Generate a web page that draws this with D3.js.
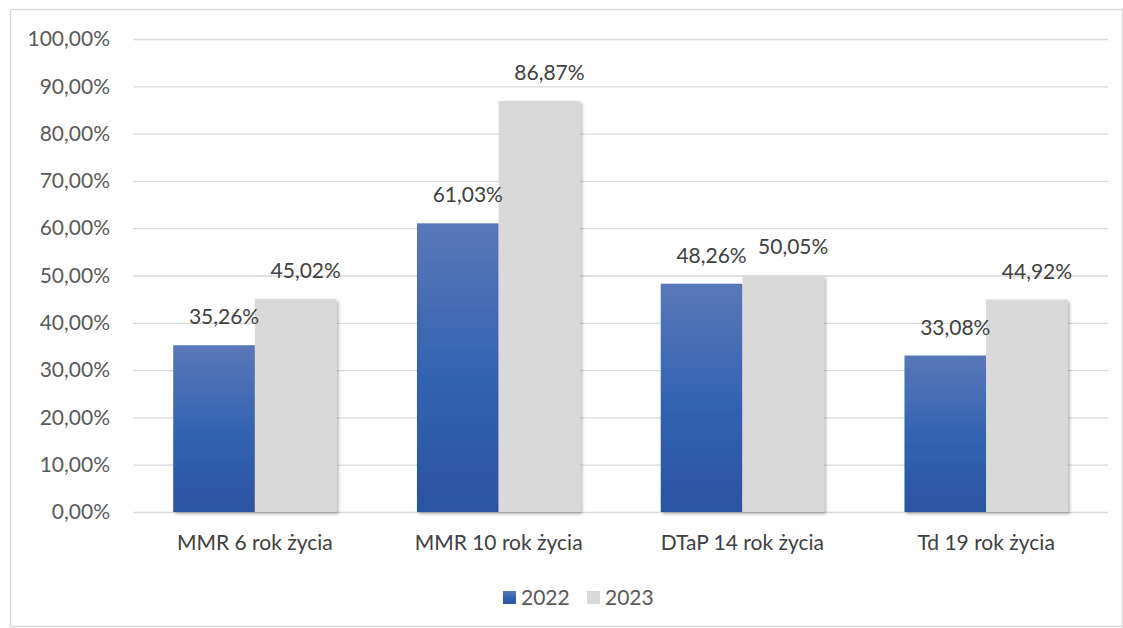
<!DOCTYPE html>
<html><head><meta charset="utf-8">
<script src="https://cdn.jsdelivr.net/npm/d3@7"></script>
<style>body{margin:0;background:#fff}svg{display:block}</style>
</head><body><svg id="c" width="1123" height="628"></svg>
<script>
const categories = ["MMR 6 rok życia","MMR 10 rok życia","DTaP 14 rok życia","Td 19 rok życia"];
const seriesNames = ["2022","2023"];
const values2022 = [35.26, 61.03, 48.26, 33.08];
const values2023 = [45.02, 86.87, 50.05, 44.92];
const yTicks = [0,10,20,30,40,50,60,70,80,90,100];

(function(){
const fmt = v => v.toFixed(2).replace(".", ",") + "%";
const font = "Lato, 'Open Sans', sans-serif";
const fs = "21px";
const svg = d3.select("#c");
const defs = svg.append("defs");
const g1 = defs.append("linearGradient").attr("id","blueGrad").attr("x1",0).attr("y1",0).attr("x2",0).attr("y2",1);
g1.append("stop").attr("offset","0%").attr("stop-color","#5A77B8");
g1.append("stop").attr("offset","55%").attr("stop-color","#3162B2");
g1.append("stop").attr("offset","100%").attr("stop-color","#2C53A1");
const f = defs.append("filter").attr("id","sh").attr("x","-10%").attr("y","-10%").attr("width","130%").attr("height","120%");
f.append("feDropShadow").attr("dx",2).attr("dy",2).attr("stdDeviation",1.8).attr("flood-color","#000").attr("flood-opacity",0.28);

svg.append("rect").attr("x",10.5).attr("y",9.5).attr("width",1112).attr("height",617)
  .attr("fill","#fff").attr("stroke","#d9d9d9").attr("stroke-width",1.5);

const pl = 133, pr = 1108, pt = 39, pb = 512;
const x = d3.scaleBand().domain(categories).range([pl,pr]).paddingInner(0.33).paddingOuter(0.165);
const xs = d3.scaleBand().domain(seriesNames).range([0,x.bandwidth()]);
const y = d3.scaleLinear().domain([0,100]).range([pb,pt]);

const yAxis = svg.append("g").attr("transform",`translate(${pl},0)`)
  .call(d3.axisLeft(y).tickValues(yTicks).tickFormat(fmt).tickSize(-(pr-pl)).tickPadding(23));
yAxis.select(".domain").remove();
yAxis.selectAll(".tick line").attr("stroke","#d9d9d9").attr("stroke-width",1.3);
yAxis.selectAll(".tick text").attr("fill","#595959").style("font-family",font).style("font-size",fs);

const data = categories.map((c,i)=>({c, vals:[{s:"2022",v:values2022[i]},{s:"2023",v:values2023[i]}]}));
const grp = svg.append("g").selectAll("g").data(data).join("g").attr("transform",d=>`translate(${x(d.c)},0)`);
grp.selectAll("rect").data(d=>d.vals).join("rect")
  .attr("x",d=>xs(d.s)).attr("width",xs.bandwidth())
  .attr("y",d=>y(d.v)).attr("height",d=>y(0)-y(d.v))
  .attr("fill",d=>d.s==="2022"?"url(#blueGrad)":"#D9D9D9")
  .attr("filter","url(#sh)");
grp.selectAll("text").data(d=>d.vals).join("text")
  .attr("x",d=>xs(d.s)+xs.bandwidth()/2+10).attr("y",d=>y(d.v)-21)
  .attr("text-anchor","middle").attr("fill","#404040")
  .style("font-family",font).style("font-size",fs).text(d=>fmt(d.v));

const xAxis = svg.append("g").attr("transform",`translate(0,${pb})`)
  .call(d3.axisBottom(x).tickSize(0).tickPadding(23));
xAxis.select(".domain").remove();
xAxis.selectAll(".tick text").attr("fill","#404040").style("font-family",font).style("font-size",fs);

const legend = svg.append("g").attr("transform","translate(503,598)");
const lx = d3.scaleOrdinal().domain(seriesNames).range([0,84]);
const li = legend.selectAll("g").data(seriesNames).join("g").attr("transform",d=>`translate(${lx(d)},0)`);
li.append("rect").attr("x",0).attr("y",-7).attr("width",13).attr("height",13)
  .attr("fill",d=>d==="2022"?"url(#blueGrad)":"#D9D9D9");
li.append("text").attr("x",18).attr("y",0).attr("dy","0.35em").attr("fill","#595959")
  .style("font-family",font).style("font-size",fs).text(d=>d);
})();
</script></body></html>
